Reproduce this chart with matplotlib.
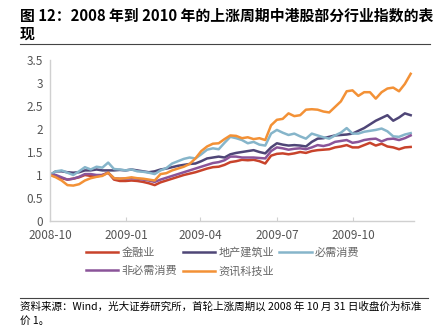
import matplotlib
matplotlib.use("Agg")
import matplotlib.pyplot as plt
import numpy as np
import pandas as pd
from matplotlib.lines import Line2D

plt.rcParams['font.family'] = ['Noto Sans CJK SC', 'DejaVu Sans']

dates = pd.date_range("2008-10-31", periods=63, freq="7D")

finance = [1.0, 0.97, 0.93, 0.90, 0.92, 0.95, 1.00, 0.98, 0.97, 1.00, 1.05, 0.90, 0.87, 0.87, 0.88, 0.87,
           0.85, 0.82, 0.78, 0.84, 0.88, 0.92, 0.96, 1.00, 1.03, 1.06, 1.10, 1.14, 1.17, 1.18,
           1.22, 1.28, 1.30, 1.33, 1.32, 1.33, 1.30, 1.25, 1.42, 1.46, 1.47, 1.45, 1.47, 1.50, 1.48, 1.52,
           1.54, 1.55, 1.56, 1.60, 1.62, 1.65, 1.60, 1.60, 1.65, 1.70, 1.64, 1.68, 1.62, 1.60, 1.56, 1.60, 1.61]
realestate = [1.0, 1.08, 1.08, 1.06, 1.05, 1.06, 1.10, 1.10, 1.12, 1.10, 1.10, 1.10, 1.11, 1.10, 1.12, 1.10,
              1.08, 1.06, 1.08, 1.12, 1.14, 1.17, 1.20, 1.22, 1.24, 1.25, 1.30, 1.36, 1.38, 1.40,
              1.38, 1.45, 1.48, 1.50, 1.52, 1.54, 1.50, 1.47, 1.60, 1.69, 1.66, 1.64, 1.65, 1.64, 1.62, 1.72,
              1.79, 1.80, 1.83, 1.86, 1.87, 1.88, 1.90, 1.96, 2.02, 2.10, 2.18, 2.24, 2.30, 2.18, 2.25, 2.34, 2.30]
staples = [1.0, 1.08, 1.10, 1.05, 1.00, 1.08, 1.17, 1.12, 1.18, 1.16, 1.27, 1.13, 1.12, 1.10, 1.12, 1.08,
           1.07, 1.05, 1.02, 1.10, 1.15, 1.25, 1.30, 1.35, 1.38, 1.36, 1.45, 1.55, 1.58, 1.56,
           1.70, 1.83, 1.80, 1.76, 1.69, 1.72, 1.66, 1.64, 1.90, 1.98, 1.92, 1.87, 1.90, 1.84, 1.79, 1.90,
           1.86, 1.82, 1.79, 1.86, 1.92, 2.02, 1.90, 1.90, 1.94, 1.96, 1.98, 2.01, 1.95, 1.84, 1.83, 1.88, 1.91]
discretionary = [1.0, 1.00, 0.95, 0.90, 0.92, 0.96, 1.02, 1.02, 1.00, 1.00, 1.05, 0.93, 0.92, 0.92, 0.93, 0.92,
                 0.90, 0.88, 0.85, 0.90, 0.94, 0.98, 1.02, 1.06, 1.10, 1.14, 1.18, 1.22, 1.26, 1.28,
                 1.32, 1.40, 1.40, 1.38, 1.38, 1.38, 1.37, 1.36, 1.52, 1.60, 1.58, 1.55, 1.57, 1.58, 1.56, 1.60,
                 1.65, 1.63, 1.66, 1.72, 1.74, 1.76, 1.70, 1.72, 1.76, 1.78, 1.79, 1.73, 1.78, 1.79, 1.76, 1.80, 1.86]
tech = [1.0, 0.95, 0.88, 0.78, 0.77, 0.80, 0.88, 0.93, 0.96, 0.98, 1.05, 0.93, 0.92, 0.93, 0.95, 0.93,
        0.92, 0.90, 0.88, 1.02, 1.04, 1.10, 1.14, 1.18, 1.24, 1.36, 1.52, 1.62, 1.68, 1.69,
        1.78, 1.86, 1.85, 1.80, 1.82, 1.78, 1.80, 1.76, 2.08, 2.20, 2.22, 2.34, 2.28, 2.30, 2.42, 2.43,
        2.42, 2.38, 2.36, 2.48, 2.60, 2.82, 2.84, 2.72, 2.80, 2.80, 2.66, 2.80, 2.88, 2.90, 2.82, 2.98, 3.20]

series_names = ["金融业", "地产建筑业", "必需消费", "非必需消费", "资讯科技业"]
series_values = [finance, realestate, staples, discretionary, tech]
colors = ["#C8432B", "#4F4677", "#86B5CA", "#8A5499", "#F39136"]

tick_dates = pd.to_datetime(["2008-10-31", "2009-01-31", "2009-04-30", "2009-07-31", "2009-10-31"])
tick_labels = ["2008-10", "2009-01", "2009-04", "2009-07", "2009-10"]
yticks = [0, 0.5, 1, 1.5, 2, 2.5, 3, 3.5]
ytick_labels = ["0", "0.5", "1", "1.5", "2", "2.5", "3", "3.5"]

W, H = 447, 325
fig = plt.figure(figsize=(W / 100, H / 100), dpi=100)
ax = fig.add_axes([50 / W, 1 - 221 / H, (414 - 50) / W, (221 - 60) / H])

handles = []
for name, vals, c in zip(series_names, series_values, colors):
    h, = ax.plot(dates, vals, color=c, lw=1.8, label=name)
    handles.append(h)

ax.set_ylim(0, 3.5)
ax.set_xlim(pd.Timestamp("2008-10-31"), pd.Timestamp("2010-01-12"))
ax.set_yticks(yticks)
ax.set_yticklabels(ytick_labels)
ax.set_xticks(tick_dates)
ax.set_xticklabels(tick_labels)
for s in ["top", "right"]:
    ax.spines[s].set_visible(False)
for s in ["left", "bottom"]:
    ax.spines[s].set_color("#D0D0D0")
    ax.spines[s].set_linewidth(1.0)
ax.tick_params(axis="y", length=0, labelsize=8.5, labelcolor="#555555", pad=5)
ax.tick_params(axis="x", length=3, direction="in", color="#D0D0D0", labelsize=8.5, labelcolor="#555555", pad=6)

order = [0, 3, 1, 4, 2]
leg = fig.legend([handles[i] for i in order], [series_names[i] for i in order],
                 loc="upper left", bbox_to_anchor=(86 / W, 1 - 247 / H), ncol=3, frameon=False,
                 fontsize=8, handlelength=2.9, handletextpad=0.3, columnspacing=0.5, labelspacing=0.75,
                 borderaxespad=0, borderpad=0)
for t in leg.get_texts():
    t.set_color("#666666")

fig.text(20 / W, 1 - 16 / H, "图 12：2008 年到 2010 年的上涨周期中港股部分行业指数的表", fontsize=10.7,
         fontweight="bold", va="center", ha="left")
fig.text(20 / W, 1 - 34 / H, "现", fontsize=10.7, fontweight="bold", va="center", ha="left")
fig.add_artist(Line2D([20 / W, 430 / W], [1 - 44 / H, 1 - 44 / H], color="#444444", lw=0.8))
fig.add_artist(Line2D([20 / W, 428 / W], [1 - 298 / H, 1 - 298 / H], color="#444444", lw=0.8))
fig.text(20 / W, 1 - 306 / H, "资料来源：Wind，光大证券研究所，首轮上涨周期以 2008 年 10 月 31 日收盘价为标准",
         fontsize=7.6, va="center", ha="left")
fig.text(20 / W, 1 - 321 / H, "价 1。", fontsize=7.6, va="center", ha="left")

fig.savefig("out.png", dpi=100)
